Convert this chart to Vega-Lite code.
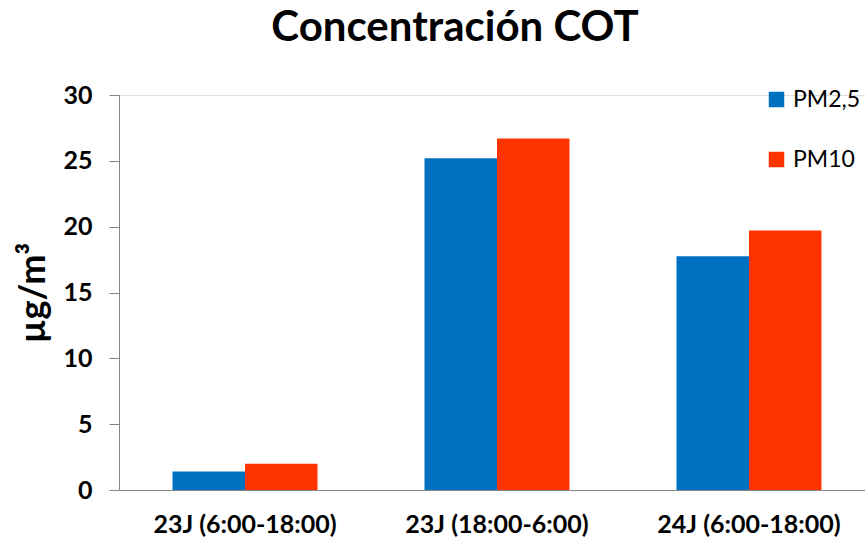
{
  "$schema": "https://vega.github.io/schema/vega-lite/v6.json",
  "width": 746,
  "height": 395,
  "autosize": "none",
  "padding": {"left": 119, "top": 95, "right": 0, "bottom": 52},
  "background": "white",
  "title": {
    "text": "Concentración COT",
    "font": "Lato",
    "fontSize": 42,
    "fontWeight": "bold",
    "color": "black",
    "anchor": "middle",
    "dx": -37,
    "offset": 33
  },
  "data": {
    "values": [
      {"periodo": "23J (6:00-18:00)", "serie": "PM2,5", "valor": 1.4},
      {"periodo": "23J (6:00-18:00)", "serie": "PM10", "valor": 2.0},
      {"periodo": "23J (18:00-6:00)", "serie": "PM2,5", "valor": 25.2},
      {"periodo": "23J (18:00-6:00)", "serie": "PM10", "valor": 26.7},
      {"periodo": "24J (6:00-18:00)", "serie": "PM2,5", "valor": 17.75},
      {"periodo": "24J (6:00-18:00)", "serie": "PM10", "valor": 19.7}
    ]
  },
  "mark": {"type": "bar"},
  "encoding": {
    "x": {
      "field": "periodo",
      "type": "nominal",
      "sort": null,
      "scale": {"paddingInner": 0.4246, "paddingOuter": 0.1925, "align": 0.5515},
      "axis": {
        "title": null,
        "labelAngle": 0,
        "labelFont": "Lato",
        "labelFontSize": 25,
        "labelFontWeight": "bold",
        "labelColor": "black",
        "labelPadding": 22,
        "labelLimit": 400,
        "ticks": false,
        "domainColor": "#868686",
        "domainWidth": 1
      }
    },
    "xOffset": {
      "field": "serie",
      "type": "nominal",
      "sort": ["PM2,5", "PM10"],
      "scale": {"paddingInner": 0, "paddingOuter": 0}
    },
    "y": {
      "field": "valor",
      "type": "quantitative",
      "scale": {"domain": [0, 30], "nice": false},
      "axis": {
        "title": "µg/m³",
        "titleFont": "Lato",
        "titleFontSize": 36,
        "titleFontWeight": "bold",
        "titleColor": "black",
        "titleX": -67,
        "values": [0, 5, 10, 15, 20, 25, 30],
        "grid": false,
        "labelFont": "Lato",
        "labelFontSize": 25,
        "labelFontWeight": "bold",
        "labelColor": "black",
        "labelPadding": 17,
        "tickSize": 10,
        "tickColor": "#868686",
        "domainColor": "#868686"
      }
    },
    "color": {
      "field": "serie",
      "type": "nominal",
      "sort": ["PM2,5", "PM10"],
      "scale": {"domain": ["PM2,5", "PM10"], "range": ["#0070C0", "#FF3300"]},
      "legend": {
        "title": null,
        "orient": "none",
        "legendX": 646,
        "legendY": -7,
        "symbolType": "square",
        "symbolSize": 240,
        "symbolStrokeWidth": 0,
        "labelFont": "Lato",
        "labelFontSize": 23,
        "labelColor": "black",
        "labelOffset": 5,
        "labelLimit": 200,
        "rowPadding": 36
      }
    }
  }
}
